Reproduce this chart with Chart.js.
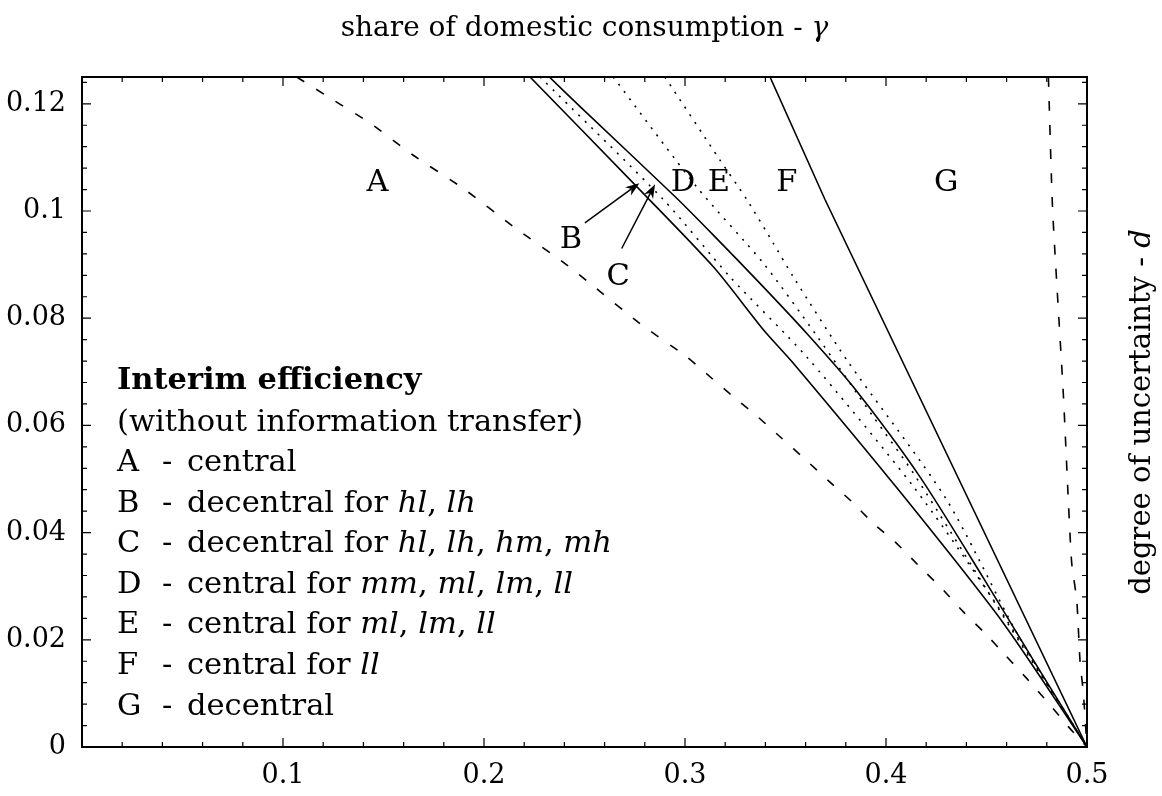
<!DOCTYPE html>
<html>
<head>
<meta charset="utf-8">
<script src="https://cdn.jsdelivr.net/npm/chart.js@4.4.0/dist/chart.umd.min.js"></script>
<style>
  html, body { margin: 0; padding: 0; background: #fff; }
  #wrap { width: 1162px; height: 796px; }
</style>
</head>
<body>
<div id="wrap"><canvas id="chart" width="1162" height="796"></canvas></div>
<script>
const FONT = '"DejaVu Serif", "Liberation Serif", serif';
const TXT = 30.5;   // legend and region letters
const TICK = 27;    // tick labels
const LABEL = 28;   // axis labels

// boundary curves: gamma on x, d on y
const curveA_gamma = [0.1068, 0.1250, 0.1433, 0.1648, 0.1897, 0.2146, 0.2403, 0.2527, 0.2776, 0.3008, 0.3133, 0.3249, 0.3365, 0.3481, 0.3597, 0.3713, 0.3829, 0.3937, 0.4053, 0.4169, 0.4277, 0.4385, 0.4493, 0.4592, 0.4700, 0.4808, 0.4907, 0.5];
const curveA_d     = [0.1250, 0.1207, 0.1164, 0.1104, 0.1042, 0.0971, 0.0902, 0.0865, 0.0790, 0.0728, 0.0688, 0.0651, 0.0615, 0.0576, 0.0537, 0.0497, 0.0458, 0.0417, 0.0380, 0.0336, 0.0296, 0.0252, 0.0212, 0.0172, 0.0128, 0.0082, 0.0038, 0];

const curveB_gamma = [0.2229, 0.2743, 0.3141, 0.3391, 0.3539, 0.4070, 0.4584, 0.5];
const curveB_d     = [0.1250, 0.1052, 0.0896, 0.0778, 0.0716, 0.0476, 0.0231, 0];

const curveC_gamma = [0.2279, 0.2893, 0.3224, 0.3605, 0.4136, 0.4535, 0.5];
const curveC_d     = [0.1250, 0.1021, 0.0877, 0.0728, 0.0486, 0.0274, 0];

const curveD_gamma = [0.2325, 0.2486, 0.2950, 0.3141, 0.3373, 0.3605, 0.3837, 0.4169, 0.4485, 0.4733, 0.5];
const curveD_d     = [0.1250, 0.1192, 0.1027, 0.0955, 0.0865, 0.0772, 0.0672, 0.0504, 0.0315, 0.0162, 0];

const curveE_gamma = [0.2643, 0.3058, 0.3391, 0.3650, 0.3937, 0.4136, 0.4617, 0.5];
const curveE_d     = [0.1250, 0.1045, 0.0902, 0.0770, 0.0616, 0.0511, 0.0224, 0];

const curveF_gamma = [0.2900, 0.3174, 0.3308, 0.3439, 0.3539, 0.3805, 0.4302, 0.4652, 0.5];
const curveF_d     = [0.1250, 0.1095, 0.1021, 0.0940, 0.0877, 0.0722, 0.0461, 0.0212, 0];

const curveG_gamma = [0.3423, 0.3697, 0.5];
const curveG_d     = [0.1250, 0.1021, 0];

const curveH_gamma = [0.4808, 0.4829, 0.4882, 0.4907, 0.4924, 0.4949, 0.4965, 0.4982, 0.5];
const curveH_d     = [0.1250, 0.1002, 0.0660, 0.0461, 0.0343, 0.0274, 0.0162, 0.0100, 0];

const xTickValues = [0.1, 0.2, 0.3, 0.4, 0.5];
const xTickLabels = ['0.1', '0.2', '0.3', '0.4', '0.5'];
const yTickValues = [0, 0.02, 0.04, 0.06, 0.08, 0.1, 0.12];
const yTickLabels = ['0', '0.02', '0.04', '0.06', '0.08', '0.1', '0.12'];

// region letters inside the plot (data coords)
const regionNames = ['A', 'B', 'C', 'D', 'E', 'F', 'G'];
const regionGamma = [0.147, 0.2433, 0.2667, 0.299, 0.3169, 0.3507, 0.4299];
const regionD     = [0.1052, 0.0946, 0.0877, 0.1052, 0.1052, 0.1052, 0.1052];

// arrows B and C
const arrowFromGamma = [0.2502, 0.2685];
const arrowFromD     = [0.0978, 0.0930];
const arrowToGamma   = [0.2773, 0.2851];
const arrowToD       = [0.1052, 0.1050];

const legendKeys = ['A', 'B', 'C', 'D', 'E', 'F', 'G'];
const legendText = [
    [['central', 0]],
    [['decentral for ', 0], ['hl', 1], [', ', 0], ['lh', 1]],
    [['decentral for ', 0], ['hl', 1], [', ', 0], ['lh', 1], [', ', 0], ['hm', 1], [', ', 0], ['mh', 1]],
    [['central for ', 0], ['mm', 1], [', ', 0], ['ml', 1], [', ', 0], ['lm', 1], [', ', 0], ['ll', 1]],
    [['central for ', 0], ['ml', 1], [', ', 0], ['lm', 1], [', ', 0], ['ll', 1]],
    [['central for ', 0], ['ll', 1]],
    [['decentral', 0]]
];

function pts(xs, ys) {
    return xs.map((x, i) => ({ x: x, y: ys[i] }));
}

function curve(xs, ys, dash, tension) {
    return {
        data: pts(xs, ys),
        showLine: true,
        borderColor: '#000',
        borderWidth: 1.6,
        borderDash: dash,
        pointRadius: 0,
        tension: tension || 0,
        fill: false
    };
}

function setFont(ctx, italic, bold, size) {
    ctx.font = (italic ? 'italic ' : '') + (bold ? 'bold ' : '') + size + 'px ' + FONT;
}

function drawPieces(ctx, pieces, x, y, size) {
    let cx = x;
    pieces.forEach(p => {
        setFont(ctx, p[1], false, size);
        ctx.fillText(p[0], cx, y);
        cx += ctx.measureText(p[0]).width;
    });
}

function piecesWidth(ctx, pieces, size) {
    let w = 0;
    pieces.forEach(p => {
        setFont(ctx, p[1], false, size);
        w += ctx.measureText(p[0]).width;
    });
    return w;
}

const frameTicks = {
    id: 'frameTicks',
    afterDatasetsDraw(chart) {
        const { ctx, chartArea: a, scales: { x, y } } = chart;
        ctx.save();
        ctx.strokeStyle = '#000';
        ctx.lineWidth = 1.2;
        ctx.beginPath();
        for (let k = 1; k < 25; k++) {
            const px = x.getPixelForValue(k * 0.02);
            const len = k % 5 === 0 ? 9 : 5;
            ctx.moveTo(px, a.bottom); ctx.lineTo(px, a.bottom - len);
            ctx.moveTo(px, a.top); ctx.lineTo(px, a.top + len);
        }
        for (let k = 1; k < 32; k++) {
            const py = y.getPixelForValue(k * 0.004);
            const len = k % 5 === 0 ? 9 : 5;
            ctx.moveTo(a.left, py); ctx.lineTo(a.left + len, py);
            ctx.moveTo(a.right, py); ctx.lineTo(a.right - len, py);
        }
        ctx.stroke();
        ctx.lineWidth = 2;
        ctx.strokeRect(a.left, a.top, a.right - a.left, a.bottom - a.top);
        ctx.restore();
    }
};

const annotations = {
    id: 'annotations',
    afterDraw(chart) {
        const { ctx, chartArea: a, scales: { x, y } } = chart;
        ctx.save();
        ctx.fillStyle = '#000';
        ctx.strokeStyle = '#000';

        // region letters
        setFont(ctx, false, false, TXT);
        ctx.textAlign = 'center';
        ctx.textBaseline = 'middle';
        regionNames.forEach((n, i) => {
            ctx.fillText(n, x.getPixelForValue(regionGamma[i]), y.getPixelForValue(regionD[i]));
        });

        // arrows
        ctx.lineWidth = 1.5;
        arrowFromGamma.forEach((g, i) => {
            const x0 = x.getPixelForValue(g), y0 = y.getPixelForValue(arrowFromD[i]);
            const x1 = x.getPixelForValue(arrowToGamma[i]), y1 = y.getPixelForValue(arrowToD[i]);
            const ang = Math.atan2(y1 - y0, x1 - x0);
            const c = Math.cos(ang), s = Math.sin(ang);
            const hl = 14, hw = 5;
            ctx.beginPath();
            ctx.moveTo(x0, y0);
            ctx.lineTo(x1 - c * hl * 0.7, y1 - s * hl * 0.7);
            ctx.stroke();
            ctx.beginPath();
            ctx.moveTo(x1, y1);
            ctx.lineTo(x1 - c * hl - s * hw, y1 - s * hl + c * hw);
            ctx.lineTo(x1 - c * hl * 0.7, y1 - s * hl * 0.7);
            ctx.lineTo(x1 - c * hl + s * hw, y1 - s * hl - c * hw);
            ctx.closePath();
            ctx.fill();
        });

        // legend block
        ctx.textAlign = 'left';
        ctx.textBaseline = 'alphabetic';
        const lx = a.left + 35, step = 40.6;
        let by = 389;
        setFont(ctx, false, true, TXT);
        ctx.fillText('Interim efficiency', lx, by);
        by += 42;
        setFont(ctx, false, false, TXT);
        ctx.fillText('(without information transfer)', lx, by);
        by += 40;
        legendKeys.forEach((k, i) => {
            setFont(ctx, false, false, TXT);
            ctx.fillText(k, lx, by);
            ctx.fillText('-', lx + 45, by);
            drawPieces(ctx, legendText[i], lx + 70, by, TXT);
            by += step;
        });

        // top label
        const title = [['share of domestic consumption - ', 0], ['\u03b3', 1]];
        const tw = piecesWidth(ctx, title, LABEL);
        drawPieces(ctx, title, (a.left + a.right) / 2 - tw / 2, 36, LABEL);

        // right label
        const side = [['degree of uncertainty - ', 0], ['d', 1]];
        const sw = piecesWidth(ctx, side, LABEL + 1);
        ctx.translate(1150, (a.top + a.bottom) / 2);
        ctx.rotate(-Math.PI / 2);
        drawPieces(ctx, side, -sw / 2, 0, LABEL + 1);
        ctx.restore();
    }
};

const ctx = document.getElementById('chart').getContext('2d');
new Chart(ctx, {
    type: 'scatter',
    data: {
        datasets: [
            curve(curveA_gamma, curveA_d, [9, 14], 0.2),
            curve(curveB_gamma, curveB_d, [], 0.25),
            curve(curveC_gamma, curveC_d, [2, 7], 0.25),
            curve(curveD_gamma, curveD_d, [], 0.25),
            curve(curveE_gamma, curveE_d, [2, 7], 0.25),
            curve(curveF_gamma, curveF_d, [2, 7], 0.25),
            curve(curveG_gamma, curveG_d, [], 0),
            curve(curveH_gamma, curveH_d, [10, 14], 0.2)
        ]
    },
    options: {
        responsive: false,
        animation: false,
        layout: { padding: { top: 77, right: 75, left: 0, bottom: 0 } },
        plugins: { legend: { display: false }, tooltip: { enabled: false } },
        scales: {
            x: {
                type: 'linear', min: 0, max: 0.5,
                grid: { display: false, drawTicks: false },
                border: { display: false },
                afterBuildTicks: s => { s.ticks = xTickValues.map(v => ({ value: v })); },
                afterFit: s => { s.height = 49; },
                ticks: {
                    padding: 13, color: '#000', autoSkip: false, maxRotation: 0,
                    font: { family: FONT, size: TICK },
                    callback: (v, i) => xTickLabels[i]
                }
            },
            y: {
                type: 'linear', min: 0, max: 0.125,
                grid: { display: false, drawTicks: false },
                border: { display: false },
                afterBuildTicks: s => { s.ticks = yTickValues.map(v => ({ value: v })); },
                afterFit: s => { s.width = 82; },
                ticks: {
                    padding: 16, color: '#000', autoSkip: false,
                    font: { family: FONT, size: TICK },
                    callback: (v, i) => yTickLabels[i]
                }
            }
        }
    },
    plugins: [frameTicks, annotations]
});
</script>
</body>
</html>
